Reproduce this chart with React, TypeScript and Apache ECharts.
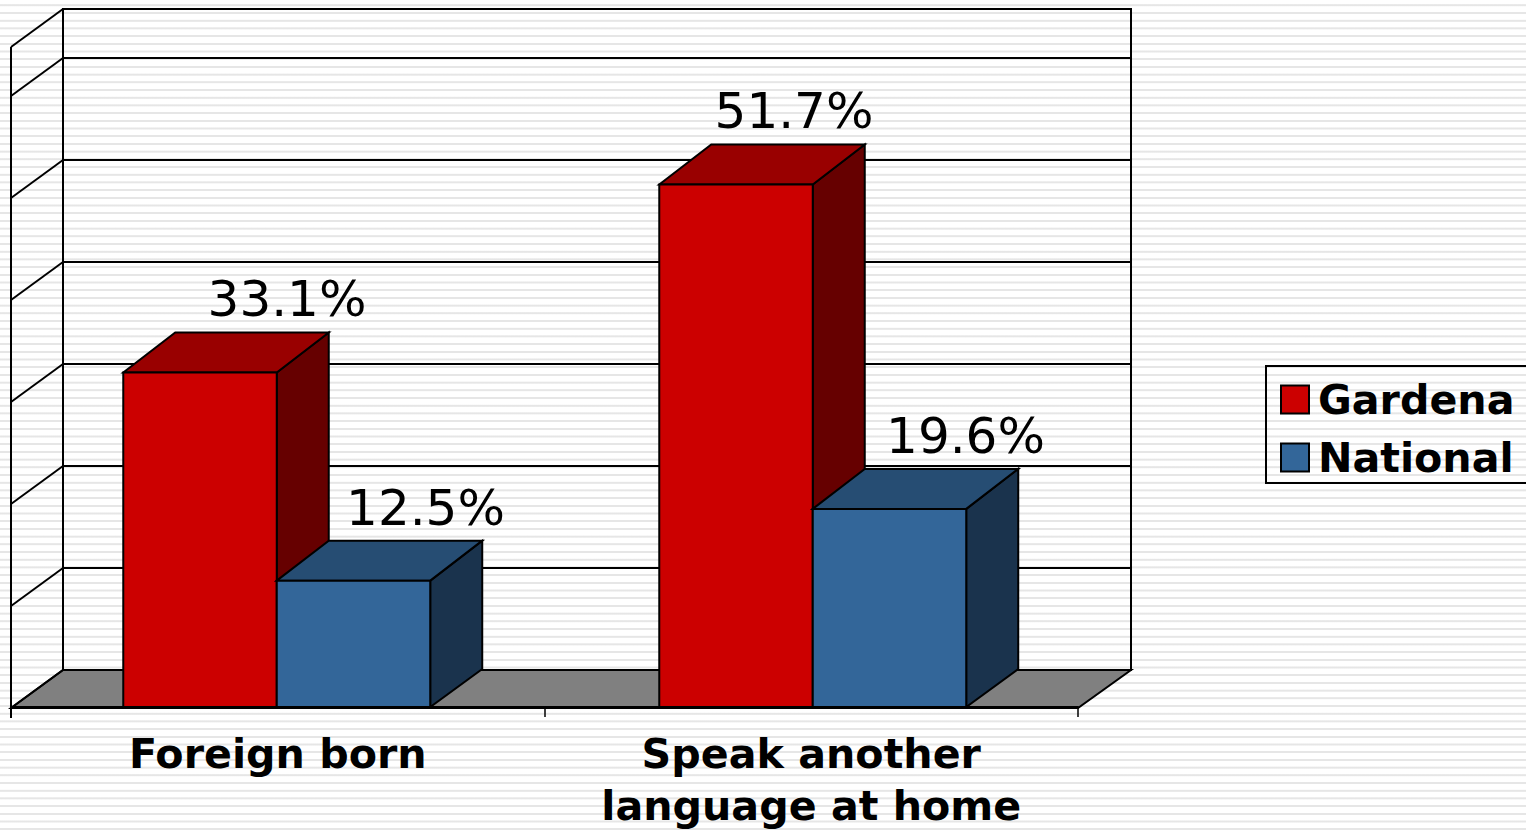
import React, { useEffect, useRef } from "react";
import * as echarts from "echarts";

const categories = ["Foreign born", "Speak another\nlanguage at home"];
const gardena = [33.1, 51.7];
const national = [12.5, 19.6];
const wallTicks = [0, 10, 20, 30, 40, 50, 60, 64.8];

// Hand-placed nudges of the original, in pixels
const gardenaLabelShift = [87, 58];
const nationalLabelShift = [72, 76];
const groupShift = [-1, 1.5];

const FONT = "'DejaVu Sans', Verdana, sans-serif";
const DEPTH_X = 52;
const DEPTH_TOP = 40;
const DEPTH_BASE = 38;
const BAR_RATIO = 0.2877;
const STROKE = { stroke: "#000", lineWidth: 2 };

const box = (
  side: number,
  values: number[],
  shifts: number[],
  front: string,
  top: string,
  right: string
) => (params: any, api: any) => {
  const i = api.value(0);
  const v = api.value(1);
  const [cx0, y0] = api.coord([i, 0]);
  const cx = cx0 + groupShift[params.dataIndex];
  const [, y1] = api.coord([i, v]);
  const w = api.size([1, 0])[0] * BAR_RATIO;
  const x0 = side < 0 ? cx - w : cx;
  const x1 = x0 + w;
  return {
    type: "group",
    children: [
      {
        type: "polygon",
        shape: { points: [[x1, y1], [x1 + DEPTH_X, y1 - DEPTH_TOP], [x1 + DEPTH_X, y0 - DEPTH_BASE], [x1, y0]] },
        style: { fill: right, ...STROKE },
      },
      {
        type: "polygon",
        shape: { points: [[x0, y1], [x0 + DEPTH_X, y1 - DEPTH_TOP], [x1 + DEPTH_X, y1 - DEPTH_TOP], [x1, y1]] },
        style: { fill: top, ...STROKE },
      },
      {
        type: "rect",
        shape: { x: x0, y: y1, width: w, height: y0 - y1 },
        style: { fill: front, ...STROKE },
      },
      {
        type: "text",
        x: (x0 + x1) / 2 + shifts[params.dataIndex],
        y: y1 - 73,
        style: {
          text: values[params.dataIndex].toFixed(1) + "%",
          fontFamily: FONT,
          fontSize: 50,
          fill: "#000",
          align: "center",
          verticalAlign: "middle",
        },
      },
    ],
  };
};

export default function App() {
  const ref = useRef<HTMLDivElement>(null);
  useEffect(() => {
    document.body.style.margin = "0";
    const chart = echarts.init(ref.current!, undefined, { renderer: "svg" });
    chart.setOption({
      animation: false,
      backgroundColor: "transparent",
      legend: {
        orient: "vertical",
        left: 1266,
        top: 366,
        padding: [13, 20, 5, 14],
        itemGap: 17,
        itemWidth: 28,
        itemHeight: 28,
        borderColor: "#000",
        borderWidth: 2,
        textStyle: { fontFamily: FONT, fontWeight: "bold", fontSize: 41.2, color: "#000", padding: [0, 0, 0, 4] },
        data: [
          { name: "Gardena", icon: "rect", itemStyle: { color: "#CC0000", borderColor: "#000", borderWidth: 2 } },
          { name: "National", icon: "rect", itemStyle: { color: "#336699", borderColor: "#000", borderWidth: 2 } },
        ],
      },
      grid: [
        { left: 11, width: 1067, top: 48, height: 661, containLabel: false },
        { left: 63, width: 1068, top: 9, height: 661, show: true, borderColor: "#000", borderWidth: 2, backgroundColor: "transparent" },
      ],
      xAxis: [
        {
          type: "category",
          gridIndex: 0,
          data: categories,
          axisLine: { show: true, lineStyle: { color: "#000", width: 2 } },
          axisTick: { show: true, length: 10, alignWithLabel: false, lineStyle: { color: "#000", width: 1.5 } },
          axisLabel: {
            interval: 0,
            margin: 21,
            fontFamily: FONT,
            fontWeight: "bold",
            fontSize: 41.2,
            lineHeight: 52,
            color: "#000",
          },
          z: 5,
        },
        { type: "value", gridIndex: 1, min: 0, max: 1, show: false },
      ],
      yAxis: [
        { type: "value", gridIndex: 0, min: 0, max: 65.2, show: false },
        {
          type: "value",
          gridIndex: 1,
          min: 0,
          max: 64.8,
          interval: 10,
          axisLine: { show: false },
          axisTick: { show: false },
          axisLabel: { show: false },
          splitLine: { show: true, lineStyle: { color: "#000", width: 2 } },
        },
      ],
      series: [
        {
          type: "custom",
          name: "wall",
          xAxisIndex: 1,
          yAxisIndex: 1,
          data: wallTicks.map((t) => [0, t]),
          silent: true,
          z: 1,
          renderItem: (params: any, api: any) => {
            const [x, y] = api.coord([0, api.value(1)]);
            const rx = api.coord([1, 0])[0];
            const children: any[] = [
              {
                type: "line",
                shape: { x1: x - DEPTH_X, y1: y + DEPTH_BASE, x2: x, y2: y },
                style: { stroke: "#000", lineWidth: 2 },
              },
            ];
            if (params.dataIndex === 0) {
              children.unshift({
                type: "polygon",
                shape: {
                  points: [
                    [x - DEPTH_X, y + DEPTH_BASE],
                    [x, y],
                    [rx, y],
                    [rx - 53, y + DEPTH_BASE],
                  ],
                },
                style: { fill: "#808080", stroke: "#000", lineWidth: 2 },
              });
              const topY = api.coord([0, wallTicks[wallTicks.length - 1]])[1];
              children.push({
                type: "line",
                shape: { x1: x - DEPTH_X, y1: topY + DEPTH_BASE, x2: x - DEPTH_X, y2: y + DEPTH_BASE + 10 },
                style: { stroke: "#000", lineWidth: 2 },
              });
            }
            return { type: "group", children };
          },
        },
        {
          type: "custom",
          name: "Gardena",
          xAxisIndex: 0,
          yAxisIndex: 0,
          z: 3,
          itemStyle: { color: "#CC0000" },
          data: gardena.map((v, i) => [i, v]),
          encode: { x: 0, y: 1 },
          renderItem: box(-1, gardena, gardenaLabelShift, "#CC0000", "#990000", "#660000"),
        },
        {
          type: "custom",
          name: "National",
          xAxisIndex: 0,
          yAxisIndex: 0,
          z: 4,
          itemStyle: { color: "#336699" },
          data: national.map((v, i) => [i, v]),
          encode: { x: 0, y: 1 },
          renderItem: box(1, national, nationalLabelShift, "#336699", "#264D73", "#1A334D"),
        },
      ],
    });
    return () => chart.dispose();
  }, []);

  return (
    <div
      style={{
        position: "absolute",
        left: 0,
        top: 0,
        width: 1526,
        height: 832,
        overflow: "hidden",
        background:
          "repeating-linear-gradient(to bottom, #fff 0px, #fff 4px, #e6e6e6 4.6px, #e6e6e6 6px, #fff 6.6px, #fff 7.7px)",
      }}
    >
      <div ref={ref} style={{ width: 1526, height: 832 }} />
    </div>
  );
}
